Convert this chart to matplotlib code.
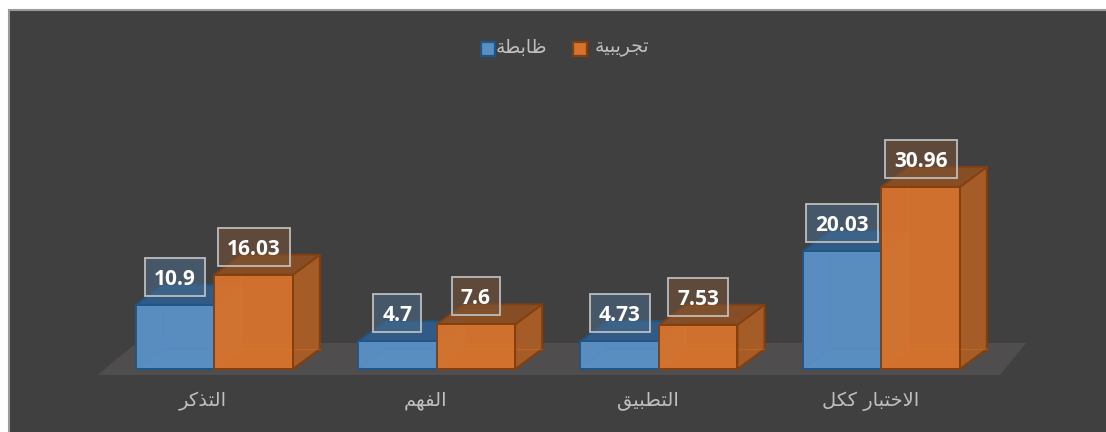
import matplotlib
matplotlib.use("Agg")
import matplotlib.pyplot as plt
from matplotlib.patches import Polygon, Rectangle

categories = ['التذكر', 'الفهم', 'التطبيق', 'الاختبار ككل']
series_names = ['ظابطة', 'تجريبية']
control_values = [10.9, 4.7, 4.73, 20.03]
experimental_values = [16.03, 7.6, 7.53, 30.96]
control_labels = ['10.9', '4.7', '4.73', '20.03']
experimental_labels = ['16.03', '7.6', '7.53', '30.96']

FORMS = {
    'ا': (0xFE8D, 0xFE8E, None, None), 'ب': (0xFE8F, 0xFE90, 0xFE91, 0xFE92),
    'ة': (0xFE93, 0xFE94, None, None), 'ت': (0xFE95, 0xFE96, 0xFE97, 0xFE98),
    'ج': (0xFE9D, 0xFE9E, 0xFE9F, 0xFEA0), 'خ': (0xFEA5, 0xFEA6, 0xFEA7, 0xFEA8),
    'ذ': (0xFEAB, 0xFEAC, None, None), 'ر': (0xFEAD, 0xFEAE, None, None),
    'ط': (0xFEC1, 0xFEC2, 0xFEC3, 0xFEC4), 'ظ': (0xFEC5, 0xFEC6, 0xFEC7, 0xFEC8),
    'ف': (0xFED1, 0xFED2, 0xFED3, 0xFED4), 'ق': (0xFED5, 0xFED6, 0xFED7, 0xFED8),
    'ك': (0xFED9, 0xFEDA, 0xFEDB, 0xFEDC), 'ل': (0xFEDD, 0xFEDE, 0xFEDF, 0xFEE0),
    'م': (0xFEE1, 0xFEE2, 0xFEE3, 0xFEE4), 'ه': (0xFEE9, 0xFEEA, 0xFEEB, 0xFEEC),
    'ي': (0xFEF1, 0xFEF2, 0xFEF3, 0xFEF4),
}


def shape(text):
    """Join Arabic letters and put them in visual order for matplotlib."""
    out, i, prev_joins = [], 0, False
    while i < len(text):
        c = text[i]
        if c not in FORMS:
            out.append(c)
            prev_joins = False
            i += 1
            continue
        if c == 'ل' and i + 1 < len(text) and text[i + 1] == 'ا':
            out.append(chr(0xFEFC if prev_joins else 0xFEFB))
            prev_joins = False
            i += 2
            continue
        nxt = text[i + 1] if i + 1 < len(text) else ''
        next_ok = nxt in FORMS and FORMS[c][2] is not None
        f = FORMS[c]
        if prev_joins and next_ok:
            g = f[3]
        elif prev_joins:
            g = f[1]
        elif next_ok:
            g = f[2]
        else:
            g = f[0]
        out.append(chr(g))
        prev_joins = f[2] is not None
        i += 1
    return ''.join(out)[::-1]


W, H = 1106, 432
PX_PER_CAT = 222.33
PX_PER_UNIT = 5.88
X0_PX, Y0_PX = 214.3, 369.0
BAR_W = 78.5 / PX_PER_CAT
DX = 27 / PX_PER_CAT
DY = 20 / PX_PER_UNIT
BG = '#404040'
TXT = '#bfbfbf'

fig = plt.figure(figsize=(W / 100, H / 100), dpi=100, facecolor='white')
ax = fig.add_axes([0, 0, 1, 1])
ax.set_xlim(-X0_PX / PX_PER_CAT, (W - X0_PX) / PX_PER_CAT)
ax.set_ylim(-(H - Y0_PX) / PX_PER_UNIT, Y0_PX / PX_PER_UNIT)
ax.axis('off')

# panel runs past the right and bottom edges of the picture
ax.add_patch(Rectangle((8.5 / W, -0.05), 1.1, 1.05 - 10 / H, transform=ax.transAxes,
                       facecolor=BG, edgecolor='#9a9a9a', lw=1.5, zorder=0, clip_on=True))

# floor
fy0, fy1 = -6 / PX_PER_UNIT, 26 / PX_PER_UNIT
ax.add_patch(Polygon([(-0.527, fy0), (3.534, fy0), (3.652, fy1), (-0.35, fy1)],
                     facecolor='#4f4d4e', edgecolor='none', zorder=1))


def box(x, w, v, front, side, top, edge, inner, z):
    lw = 1.4
    ax.add_patch(Polygon([(x, 0), (x + w, 0), (x + w + DX, DY), (x + DX, DY)],
                         facecolor=front, alpha=0.5, edgecolor='none', zorder=z))
    ax.add_patch(Polygon([(x + w, 0), (x + w + DX, DY), (x + w + DX, v + DY), (x + w, v)],
                         facecolor=side, edgecolor=edge, lw=lw, joinstyle='round', zorder=z + 0.1))
    ax.add_patch(Polygon([(x, v), (x + w, v), (x + w + DX, v + DY), (x + DX, v + DY)],
                         facecolor=top, edgecolor=edge, lw=lw, joinstyle='round', alpha=0.9, zorder=z + 0.1))
    ax.add_patch(Rectangle((x, 0), w, v, facecolor=front, alpha=0.98, edgecolor='none', zorder=z + 0.2))
    # back edges seen faintly through the translucent faces
    ax.plot([x, x + DX, x + DX], [0, DY, v], color=inner, lw=1, alpha=0.35, zorder=z + 0.25)
    ax.plot([x + DX, x + w + DX], [DY, DY], color=inner, lw=1, alpha=0.35, zorder=z + 0.25)
    ax.add_patch(Rectangle((x, 0), w, v, facecolor='none', edgecolor=edge, lw=lw, zorder=z + 0.3))


BLUE = dict(front='#5a8fc3', side='#4a78a6', top='#2f5f8f', edge='#1f5587', inner='#4b8ccb')
ORANGE = dict(front='#d4722e', side='#a55c26', top='#8f5022', edge='#843f0f', inner='#e07a2a')

for i, (a, b) in enumerate(zip(control_values, experimental_values)):
    box(i - BAR_W, BAR_W, a, z=2, **BLUE)
    box(i, BAR_W, b, z=3, **ORANGE)

LABEL_W = {3: 48, 4: 60, 5: 72}


def value_label(x, v, s, fc):
    yc = v + 28 / PX_PER_UNIT
    ax.text(x, yc, s, ha='center', va='center_baseline', color='white', fontsize=15,
            fontfamily='Open Sans', fontweight='bold', zorder=6)
    w = LABEL_W[len(s)] / PX_PER_CAT
    h = 38 / PX_PER_UNIT
    ax.add_patch(Rectangle((x - w / 2, yc - h / 2), w, h, facecolor=fc, alpha=0.55,
                           edgecolor='none', zorder=5))
    ax.add_patch(Rectangle((x - w / 2, yc - h / 2), w, h, facecolor='none',
                           edgecolor='#bdbdbd', lw=1.3, zorder=5.5))


for i in range(len(categories)):
    value_label(i - BAR_W / 2, control_values[i], control_labels[i], '#4a6b8a')
    value_label(i + BAR_W / 2, experimental_values[i], experimental_labels[i], '#7a5236')
    ax.text(i - 11 / PX_PER_CAT, -(401 - Y0_PX) / PX_PER_UNIT, shape(categories[i]), ha='center', va='center',
            color=TXT, fontsize=14, fontfamily='DejaVu Sans', zorder=6)

# legend
for name, style, sx, tx in [(series_names[0], BLUE, 480.5, 547),
                            (series_names[1], ORANGE, 572.5, 649)]:
    ax.add_patch(Rectangle((sx / W, 1 - 56 / H), 14 / W, 14.5 / H, transform=ax.transAxes,
                           facecolor=style['front'], edgecolor=style['edge'], lw=1.6, zorder=6))
    ax.text(tx / W, 1 - 47 / H, shape(name), transform=ax.transAxes, ha='right', va='center',
            color=TXT, fontsize=13.5, fontfamily='DejaVu Sans', zorder=6)

fig.savefig('out.png', dpi=100, facecolor='white')
